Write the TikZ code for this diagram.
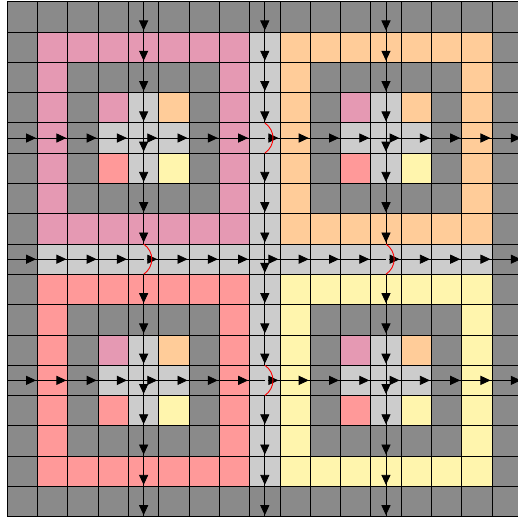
\documentclass[tikz,border=0pt]{standalone}
\usetikzlibrary{arrows.meta}
\definecolor{cellgrey}{HTML}{8A8A8A}
\definecolor{celllight}{HTML}{CCCCCC}
\definecolor{cellpink}{HTML}{E599B3}
\definecolor{cellorange}{HTML}{FFCC99}
\definecolor{cellred}{HTML}{FF9999}
\definecolor{cellyellow}{HTML}{FFF5AD}
\tikzset{
  wire/.style={line width=0.75pt},
  wirehead/.style={wire,-{Triangle[length=3.3mm,width=3mm]}},
  hop/.style={red,line width=0.85pt},
}
\begin{document}
\begin{tikzpicture}
  \useasboundingbox (-0.241,-0.109) rectangle (16.85,17.056);
  % Ground
  \fill[cellgrey] (0,0) rectangle (17,17);
  \clip (-0.241,-0.109) rectangle (16.85,17.056);
  % Four rings
  \foreach \x/\y/\col in {1/9/cellpink,9/9/cellorange,1/1/cellred,9/1/cellyellow}{
    \fill[\col] (\x,\y) rectangle ++(7,7);
    \fill[cellgrey] (\x+1,\y+1) rectangle ++(5,5);
  }
  % Centre cross
  \fill[celllight] (8,1) rectangle (9,16);
  \fill[celllight] (1,8) rectangle (16,9);
  % Small cross in each ring
  \foreach \x/\y in {1/9,9/9,1/1,9/1}{
    \fill[cellpink] (\x+2,\y+4) rectangle ++(1,1);
    \fill[cellorange] (\x+4,\y+4) rectangle ++(1,1);
    \fill[cellred] (\x+2,\y+2) rectangle ++(1,1);
    \fill[cellyellow] (\x+4,\y+2) rectangle ++(1,1);
    \fill[celllight] (\x+3,\y+2) rectangle ++(1,3);
    \fill[celllight] (\x+2,\y+3) rectangle ++(3,1);
  }
  % Grid
  \draw[line width=0.75pt] (0,0) grid (17,17);
  % Vertical wires
  \draw[wire] (4.5,17) -- (4.5,9);
  \draw[wire] (4.5,8) -- (4.5,0);
  \draw[wire] (8.5,17) -- (8.5,13);
  \draw[wire] (8.5,12) -- (8.5,5);
  \draw[wire] (8.5,4) -- (8.5,0);
  \draw[wire] (12.5,17) -- (12.5,9);
  \draw[wire] (12.5,8) -- (12.5,0);
  % Horizontal wires
  \draw[wire] (0,12.5) -- (8.5,12.5);
  \draw[wire] (8.65,12.5) -- (17,12.5);
  \draw[wire] (0,8.5) -- (4.5,8.5);
  \draw[wire] (4.65,8.5) -- (12.5,8.5);
  \draw[wire] (12.65,8.5) -- (17,8.5);
  \draw[wire] (0,4.5) -- (8.5,4.5);
  \draw[wire] (8.65,4.5) -- (17,4.5);
  % Arrow heads down
  \foreach \y in {16,15,...,9,7,6,...,0}{
    \draw[wirehead] (4.5,\y+0.4) -- (4.5,\y+0.05);
    \draw[wirehead] (12.5,\y+0.4) -- (12.5,\y+0.05);
  }
  \foreach \y in {16,15,...,13,11,10,...,5,3,2,1,0}
    \draw[wirehead] (8.5,\y+0.4) -- (8.5,\y+0.05);
  % Arrow heads right
  \foreach \x in {0,1,...,16}{
    \draw[wirehead] (\x+0.6,12.5) -- (\x+0.95,12.5);
    \draw[wirehead] (\x+0.6,8.5) -- (\x+0.95,8.5);
    \draw[wirehead] (\x+0.6,4.5) -- (\x+0.95,4.5);
  }
  % Hops
  \foreach \x/\y in {8.5/13,4.5/9,12.5/9,8.5/5}
    \draw[hop] (\x,\y) .. controls (\x+0.36,\y-0.25) and (\x+0.36,\y-0.75) .. (\x,\y-1);
\end{tikzpicture}
\end{document}
